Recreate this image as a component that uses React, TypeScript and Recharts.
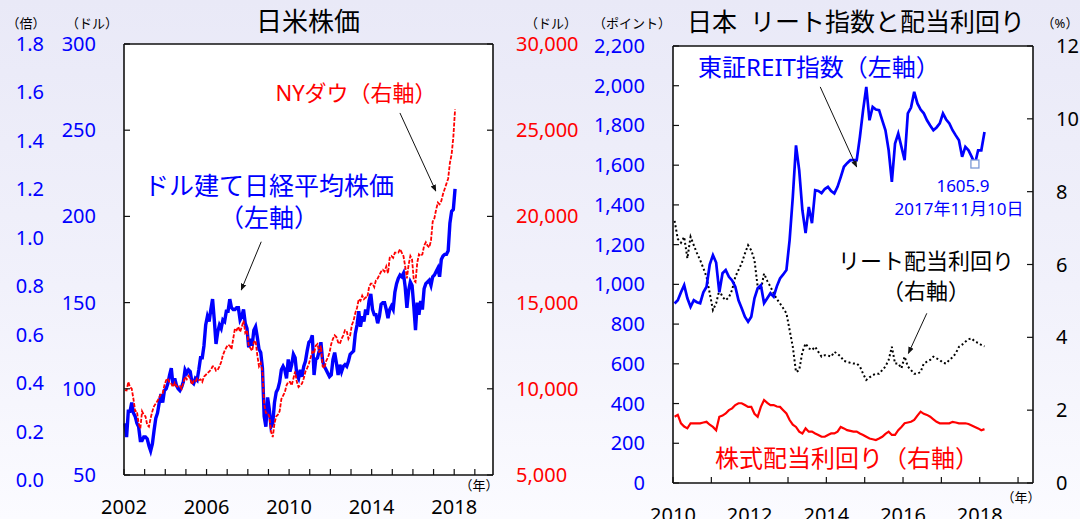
import React from "react";
import {
  ComposedChart,
  Line,
  XAxis,
  YAxis,
  CartesianGrid,
  ReferenceLine,
  ReferenceDot,
} from "recharts";

const FONT = '"Noto Sans", "Noto Sans CJK JP", sans-serif';
const BLUE = "#0000ff";
const RED = "#ff0000";
const INK = "#111";

// 日米株価: monthly, 2002/01 - 2018/01
const usStartYear = 2002;
const nikkeiUsd = [
  80, 72, 87, 87, 92, 86, 84, 80, 78, 70, 70, 72,
  72, 71, 67, 64, 68, 76, 83, 86, 92, 97, 92, 99,
  100, 103, 108, 112, 102, 106, 102, 100, 99, 101, 104, 111,
  109, 111, 110, 104, 103, 106, 105, 111, 118, 118, 125, 137,
  142, 139, 146, 152, 140, 126, 133, 137, 135, 140, 139, 145,
  145, 152, 147, 146, 146, 147, 147, 140, 142, 146, 138, 135,
  124, 129, 125, 134, 136, 130, 123, 121, 112, 84, 78, 95,
  88, 78, 80, 92, 98, 100, 104, 111, 113, 111, 106, 117,
  110, 114, 120, 118, 108, 106, 111, 107, 113, 116, 122, 127,
  128, 131, 108, 117, 118, 122, 127, 116, 113, 111, 109, 107,
  108, 117, 121, 115, 108, 114, 110, 113, 114, 113, 116, 120,
  121, 122, 132, 137, 145, 136, 142, 139, 146, 143, 151, 155,
  146, 143, 143, 138, 142, 149, 150, 150, 146, 141, 146, 148,
  146, 156, 161, 164, 166, 165, 167, 159, 147, 157, 162, 160,
  148, 134, 150, 143, 151, 146, 158, 161, 162, 163, 160, 165,
  166, 168, 170, 165, 175, 177, 178, 178, 180, 196, 203, 204,
  216,
];
const nyDow = [
  9920, 9900, 10400, 10100, 10000, 9400, 8700, 8700, 8000, 7700, 8700, 8500,
  8400, 7900, 7800, 8300, 8700, 9000, 9150, 9300, 9500, 9700, 9750, 10200,
  10500, 10600, 10350, 10300, 10100, 10350, 10150, 10100, 10150, 10000, 10350, 10700,
  10550, 10750, 10600, 10250, 10450, 10400, 10600, 10500, 10550, 10400, 10700, 10800,
  10900, 11000, 11100, 11300, 11300, 11050, 11100, 11300, 11550, 11950, 12200, 12400,
  12550, 12500, 12300, 12900, 13500, 13400, 13600, 13300, 13600, 13950, 13250, 13400,
  12500, 12350, 12200, 12700, 12800, 11950, 11300, 11500, 11000, 9100, 8600, 8600,
  8400, 7500, 7200, 8000, 8400, 8500, 8700, 9400, 9600, 9800, 10200, 10400,
  10400, 10200, 10600, 11000, 10400, 10100, 10200, 10300, 10600, 11000, 11200, 11450,
  11800, 12150, 12050, 12500, 12600, 12100, 12500, 11300, 11200, 11600, 11800, 12100,
  12600, 12900, 13100, 13000, 12700, 12600, 12900, 13100, 13400, 13350, 12900, 13100,
  13700, 13950, 14400, 14700, 15200, 15100, 15400, 15200, 15300, 15300, 15900, 16100,
  16100, 15900, 16300, 16400, 16600, 16800, 16900, 16800, 17100, 16700, 17600, 17700,
  17600, 17900, 17900, 17900, 18100, 17900, 17700, 17100, 16400, 17200, 17700, 17500,
  16300, 16200, 17300, 17800, 17700, 17800, 18300, 18500, 18300, 18200, 18600, 19700,
  19900, 20400, 20800, 20700, 20900, 21300, 21600, 21900, 22200, 23100, 23600, 24600,
  26200,
];

// 日本 リート: monthly, 2010/01 - 2018/02
const reitStartYear = 2010;
const reitIndex = [
  904, 920, 960, 996, 930, 887, 920, 910, 905, 960, 988, 1100,
  1147, 1110, 960, 1056, 1072, 1038, 1020, 988, 920, 880, 837, 812,
  837, 930, 980, 996, 905, 930, 955, 938, 990, 1030, 1050, 1072,
  1223, 1440, 1700, 1575, 1373, 1258, 1390, 1308, 1474, 1470, 1459, 1480,
  1491, 1470, 1458, 1491, 1540, 1592, 1610, 1625, 1625, 1625, 1742, 1877,
  1994, 1826, 1893, 1880, 1877, 1826, 1776, 1675, 1516, 1709, 1759, 1692,
  1625, 1861, 1890, 1969, 1911, 1880, 1861, 1826, 1800, 1776, 1790, 1810,
  1860, 1830, 1810, 1776, 1750, 1726, 1642, 1692, 1675, 1642, 1606, 1675,
  1675, 1767,
];
const reitYield = [
  7.2, 6.7, 6.6, 6.76, 6.17, 6.76, 6.53, 6.31, 6.12, 5.9, 5.66, 5.21,
  4.75, 4.93, 5.3, 5.11, 5.02, 5.1, 5.3, 5.66, 5.85, 6.03, 6.3, 6.53,
  6.39, 6.12, 5.39, 5.3, 5.75, 5.55, 5.39, 5.21, 5.05, 4.93, 4.8, 4.66,
  4.2, 3.74, 3.05, 3.1, 3.6, 3.83, 3.7, 3.65, 3.74, 3.6, 3.47, 3.51,
  3.5, 3.47, 3.6, 3.55, 3.47, 3.35, 3.33, 3.3, 3.28, 3.28, 3.2, 3.0,
  2.83, 2.9, 2.96, 3.0, 3.0, 3.1, 3.2, 3.38, 3.74, 3.28, 3.28, 3.15,
  3.47, 3.2, 3.1, 3.0, 3.0, 3.05, 3.28, 3.33, 3.38, 3.47, 3.42, 3.38,
  3.3, 3.28, 3.38, 3.45, 3.56, 3.74, 3.8, 3.88, 3.95, 3.97, 3.88, 3.85,
  3.79, 3.75,
];
const stockYield = [
  1.82, 1.87, 1.64, 1.55, 1.5, 1.64, 1.64, 1.64, 1.64, 1.66, 1.68, 1.6,
  1.54, 1.45, 1.82, 1.85, 1.91, 2.0, 2.05, 2.14, 2.19, 2.19, 2.14, 2.09,
  2.09, 1.9, 1.82, 2.09, 2.28, 2.2, 2.14, 2.14, 2.1, 2.09, 2.0, 1.91,
  1.73, 1.6, 1.54, 1.41, 1.36, 1.5, 1.41, 1.41, 1.36, 1.32, 1.27, 1.27,
  1.32, 1.36, 1.36, 1.41, 1.54, 1.5, 1.45, 1.43, 1.41, 1.41, 1.36, 1.32,
  1.27, 1.22, 1.2, 1.18, 1.22, 1.27, 1.35, 1.41, 1.32, 1.32, 1.45, 1.54,
  1.64, 1.66, 1.68, 1.73, 1.85, 1.96, 1.9, 1.87, 1.82, 1.75, 1.68, 1.64,
  1.64, 1.64, 1.64, 1.68, 1.66, 1.64, 1.64, 1.64, 1.62, 1.58, 1.54, 1.5,
  1.45, 1.48,
];

// axes
const baiTicks = [0, 0.2, 0.4, 0.6, 0.8, 1.0, 1.2, 1.4, 1.6, 1.8];
const usLeftTicks = [50, 100, 150, 200, 250, 300];
const usRightTicks = [5000, 10000, 15000, 20000, 25000, 30000];
const usYears = [2002, 2003, 2004, 2005, 2006, 2007, 2008, 2009, 2010, 2011, 2012, 2013, 2014, 2015, 2016, 2017, 2018, 2019];
const usYearLabels = [2002, 2006, 2010, 2014, 2018];
const reitLeftTicks = [0, 200, 400, 600, 800, 1000, 1200, 1400, 1600, 1800, 2000, 2200];
const reitRightTicks = [0, 2, 4, 6, 8, 10, 12];
const reitYears = [2010, 2011, 2012, 2013, 2014, 2015, 2016, 2017, 2018, 2019];
const reitYearLabels = [2010, 2012, 2014, 2016, 2018];
const reitLow = { t: 2017 + 10.5 / 12, value: 1605.9, date: "2017年11月10日" };

const usData = nikkeiUsd.map((v, i) => ({
  t: usStartYear + (i + 0.5) / 12,
  nikkei: v,
  dow: nyDow[i],
}));
const reitData = reitIndex.map((v, i) => ({
  t: reitStartYear + (i + 0.5) / 12,
  reit: v,
  reitYield: reitYield[i],
  stockYield: stockYield[i],
}));

// plot boxes
const P1 = { left: 124, right: 493, top: 44, bottom: 475 };
const P2 = { left: 673, right: 1033, top: 46, bottom: 483 };
const W = 1080;
const H = 519;

const tickText = {
  fontSize: 20,
  fontFamily: FONT,
};

const yTick =
  (edge: number, dir: 1 | -1, textX: number, anchor: "start" | "end", color: string, fmt: (v: number) => string) =>
  (p: any) => (
    <g>
      <line x1={edge} x2={edge + dir * 6} y1={p.y} y2={p.y} stroke={INK} strokeWidth={1.2} />
      <text x={textX} y={p.y} dy="0.35em" textAnchor={anchor} fill={color} {...tickText}>
        {fmt(p.payload.value)}
      </text>
    </g>
  );

const xTick = (bottom: number, labels: number[], labelY: number) => (p: any) => (
  <g>
    <line x1={p.x} x2={p.x} y1={bottom} y2={bottom - 6} stroke={INK} strokeWidth={1.2} />
    {labels.includes(p.payload.value) && (
      <text x={p.x} y={labelY} dy="0.35em" textAnchor="middle" fill="#000" {...tickText}>
        {p.payload.value}
      </text>
    )}
  </g>
);

const arrow = (p: any) => (
  <line x1={p.x1} y1={p.y1} x2={p.x2} y2={p.y2} stroke={INK} strokeWidth={1} markerEnd="url(#arrowHead)" />
);

const frame = { stroke: INK, strokeWidth: 1.6 };
const comma = (v: number) => v.toLocaleString("en-US");

function Label({ x, y, size, color = "#000", children }: any) {
  return (
    <div
      style={{
        position: "absolute",
        left: x,
        top: y,
        transform: "translate(-50%, -50%)",
        fontSize: size,
        color,
        fontFamily: FONT,
        lineHeight: 1,
        whiteSpace: "nowrap",
      }}
    >
      {children}
    </div>
  );
}

function ArrowDefs() {
  return (
    <defs>
      <marker id="arrowHead" viewBox="0 0 10 10" refX="9" refY="5" markerWidth="7" markerHeight="7" orient="auto">
        <path d="M0,1 L10,5 L0,9 z" fill={INK} />
      </marker>
    </defs>
  );
}

// the 倍 scale of a neighbouring chart, partly visible at the left edge
function BaiAxis() {
  return (
    <ComposedChart
      width={60}
      height={H}
      data={baiTicks.map((v, i) => ({ i, v }))}
      margin={{ top: 44, right: 0, bottom: H - 480, left: 0 }}
    >
      <XAxis dataKey="i" hide />
      <YAxis
        domain={[0, 1.8]}
        ticks={baiTicks}
        width={60}
        interval={0}
        axisLine={false}
        tickLine={false}
        tick={(p: any) => (
          <text x={44} y={p.y} dy="0.35em" textAnchor="end" fill={BLUE} {...tickText}>
            {p.payload.value.toFixed(1)}
          </text>
        )}
      />
      <Line dataKey="v" stroke="none" dot={false} isAnimationActive={false} />
    </ComposedChart>
  );
}

function StockChart() {
  return (
    <ComposedChart
      width={W}
      height={H}
      data={usData}
      margin={{ top: P1.top, right: W - P1.right - 40, bottom: H - P1.bottom - 40, left: P1.left - 60 }}
    >
      <ArrowDefs />
      <CartesianGrid yAxisId="left" fill="#fff" horizontal={false} vertical={false} />
      <XAxis
        dataKey="t"
        type="number"
        domain={[2002, 2019.88]}
        ticks={usYears}
        interval={0}
        height={40}
        tickLine={false}
        axisLine={frame}
        tick={xTick(P1.bottom, usYearLabels, 507)}
      />
      <YAxis
        yAxisId="left"
        domain={[50, 300]}
        ticks={usLeftTicks}
        interval={0}
        width={60}
        tickLine={false}
        axisLine={frame}
        tick={yTick(P1.left, 1, 96, "end", BLUE, (v) => String(v))}
      />
      <YAxis
        yAxisId="right"
        orientation="right"
        domain={[5000, 30000]}
        ticks={usRightTicks}
        interval={0}
        width={40}
        tickLine={false}
        axisLine={frame}
        tick={yTick(P1.right, -1, 516, "start", RED, comma)}
      />
      <ReferenceLine yAxisId="left" y={300} stroke={INK} strokeWidth={1.6} />
      <Line yAxisId="left" dataKey="nikkei" stroke={BLUE} strokeWidth={3.4} dot={false} isAnimationActive={false} />
      <Line
        yAxisId="right"
        dataKey="dow"
        stroke={RED}
        strokeWidth={1.8}
        strokeDasharray="4 1.5"
        dot={false}
        isAnimationActive={false}
      />
      <ReferenceLine yAxisId="left" segment={[{ x: 2015.37, y: 260 }, { x: 2017.11, y: 214.7 }]} shape={arrow} />
      <ReferenceLine yAxisId="left" segment={[{ x: 2008.65, y: 185.3 }, { x: 2007.68, y: 157.3 }]} shape={arrow} />
    </ComposedChart>
  );
}

function ReitChart() {
  return (
    <ComposedChart
      width={W}
      height={H}
      data={reitData}
      margin={{ top: P2.top, right: W - P2.right - 40, bottom: H - P2.bottom - 36, left: P2.left - 60 }}
    >
      <ArrowDefs />
      <CartesianGrid yAxisId="left" fill="#fff" horizontal={false} vertical={false} />
      <XAxis
        dataKey="t"
        type="number"
        domain={[2010, 2019.39]}
        ticks={reitYears}
        interval={0}
        height={36}
        tickLine={false}
        axisLine={frame}
        tick={xTick(P2.bottom, reitYearLabels, 515)}
      />
      <YAxis
        yAxisId="left"
        domain={[0, 2200]}
        ticks={reitLeftTicks}
        interval={0}
        width={60}
        tickLine={false}
        axisLine={frame}
        tick={yTick(P2.left, 1, 645, "end", BLUE, comma)}
      />
      <YAxis
        yAxisId="right"
        orientation="right"
        domain={[0, 12]}
        ticks={reitRightTicks}
        interval={0}
        width={40}
        tickLine={false}
        axisLine={frame}
        tick={yTick(P2.right, -1, 1056, "start", "#000", (v) => String(v))}
      />
      <ReferenceLine yAxisId="left" y={2200} stroke={INK} strokeWidth={1.6} />
      <Line yAxisId="right" dataKey="stockYield" stroke={RED} strokeWidth={2.2} dot={false} isAnimationActive={false} />
      <Line
        yAxisId="right"
        dataKey="reitYield"
        stroke="#000"
        strokeWidth={2}
        strokeDasharray="2 2.5"
        dot={false}
        isAnimationActive={false}
      />
      <Line yAxisId="left" dataKey="reit" stroke={BLUE} strokeWidth={2.7} dot={false} isAnimationActive={false} />
      <ReferenceDot
        yAxisId="left"
        x={reitLow.t}
        y={reitLow.value}
        shape={(p: any) => (
          <rect x={p.cx - 4} y={p.cy - 4} width={8} height={8} fill="#fff" stroke="#7c9ad6" strokeWidth={1.3} />
        )}
      />
      <ReferenceLine yAxisId="left" segment={[{ x: 2013.84, y: 1994 }, { x: 2014.79, y: 1591 }]} shape={arrow} />
      <ReferenceLine yAxisId="right" segment={[{ x: 2016.62, y: 4.66 }, { x: 2016.14, y: 3.56 }]} shape={arrow} />
    </ComposedChart>
  );
}

export default function App() {
  return (
    <div
      style={{
        position: "fixed",
        left: 0,
        top: 0,
        width: W,
        height: H,
        overflow: "hidden",
        background: "linear-gradient(to bottom, #e9e9f7 0%, #f1f1fb 55%, #fbfbff 100%)",
        fontFamily: FONT,
      }}
    >
      <div style={{ position: "absolute", left: 0, top: 0 }}>
        <BaiAxis />
      </div>
      <div style={{ position: "absolute", left: 0, top: 0 }}>
        <StockChart />
      </div>
      <div style={{ position: "absolute", left: 0, top: 0 }}>
        <ReitChart />
      </div>

      <Label x={308} y={21} size={26}>日米株価</Label>
      <Label x={26} y={23} size={13}>（倍）</Label>
      <Label x={92} y={23} size={13}>（ドル）</Label>
      <Label x={551} y={23} size={13}>（ドル）</Label>
      <Label x={479} y={485} size={13}>（年）</Label>
      <Label x={356} y={92} size={22} color={RED}>NYダウ（右軸）</Label>
      <Label x={269} y={185} size={25} color={BLUE}>ドル建て日経平均株価</Label>
      <Label x={269} y={217} size={25} color={BLUE}>（左軸）</Label>

      <Label x={856} y={21} size={25}>日本&nbsp;&nbsp;リート指数と配当利回り</Label>
      <Label x={632} y={23} size={13}>（ポイント）</Label>
      <Label x={1060} y={23} size={13}>（%）</Label>
      <Label x={1021} y={497} size={13}>（年）</Label>
      <Label x={819} y={67} size={24} color={BLUE}>東証REIT指数（左軸）</Label>
      <Label x={963} y={185} size={17} color={BLUE}>{reitLow.value}</Label>
      <Label x={959} y={208} size={17} color={BLUE}>{reitLow.date}</Label>
      <Label x={926} y={260} size={22}>リート配当利回り</Label>
      <Label x={926} y={290} size={22}>（右軸）</Label>
      <Label x={847} y={458} size={24} color={RED}>株式配当利回り（右軸）</Label>
    </div>
  );
}
